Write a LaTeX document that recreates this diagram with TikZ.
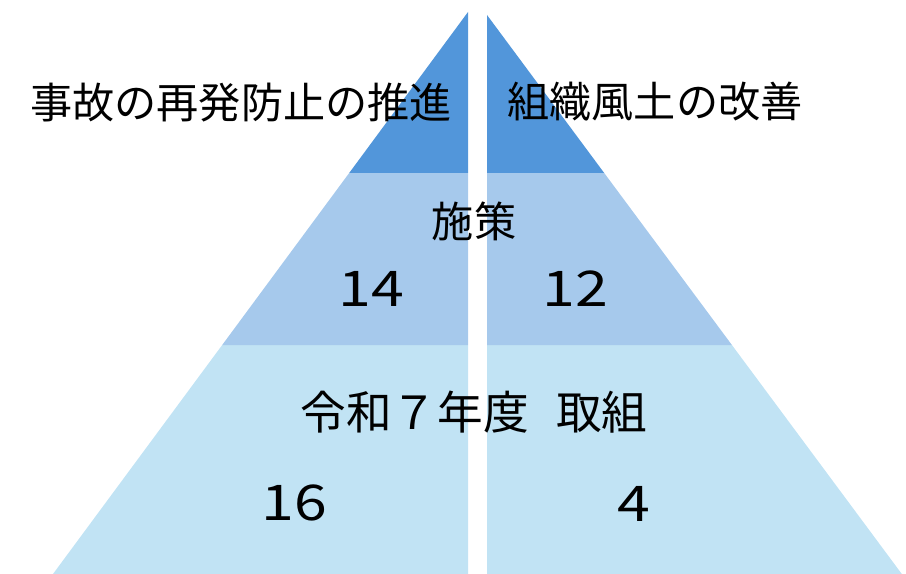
\documentclass[tikz,border=0pt]{standalone}
\usepackage{fontspec}
\setmainfont{Noto Sans CJK JP}
\newfontfamily\digitfont[FakeStretch=1.2]{Noto Sans CJK JP}
\definecolor{topblue}{RGB}{82,150,218}
\definecolor{midblue}{RGB}{166,201,236}
\definecolor{lowblue}{RGB}{193,227,244}
\tikzset{
  label/.style={inner sep=0pt, font=\fontsize{24}{26}\selectfont},
  count/.style={inner sep=0pt, font=\digitfont\fontsize{28}{30}\selectfont}
}

\begin{document}
\begin{tikzpicture}[x=0.02cm,y=-0.02cm]
\useasboundingbox (0,0) rectangle (906,574);

% left half of the pyramid:
\fill[lowblue] (222.2,345) -- (468,345) -- (468,574) -- (53,574) -- cycle;
\fill[midblue] (349.2,173) -- (468,173) -- (468,345) -- (222.2,345) -- cycle;
\fill[topblue] (468,12) -- (468,173) -- (349.2,173) -- cycle;

% right half of the pyramid:
\fill[lowblue] (487,345) -- (731.9,345) -- (901.8,574) -- (487,574) -- cycle;
\fill[midblue] (487,173) -- (604.2,173) -- (731.9,345) -- (487,345) -- cycle;
\fill[topblue] (487,15) -- (604.2,173) -- (487,173) -- cycle;

% labels:
\node[label] (accident) at (241,103) {事故の再発防止の推進};
\node[label] (culture) at (655,102) {組織風土の改善};
\node[label] (measure) at (474,221) {施策};
\node[label, font=\fontsize{26}{28}\selectfont] (effort) at (474,412) {令和７年度\hspace{0.6em}取組};
\node[count] (leftmid) at (371,289) {14};
\node[count] (rightmid) at (575,289) {12};
\node[count] (leftlow) at (294,503) {16};
\node[count] (rightlow) at (634,504) {4};

\end{tikzpicture}
\end{document}
